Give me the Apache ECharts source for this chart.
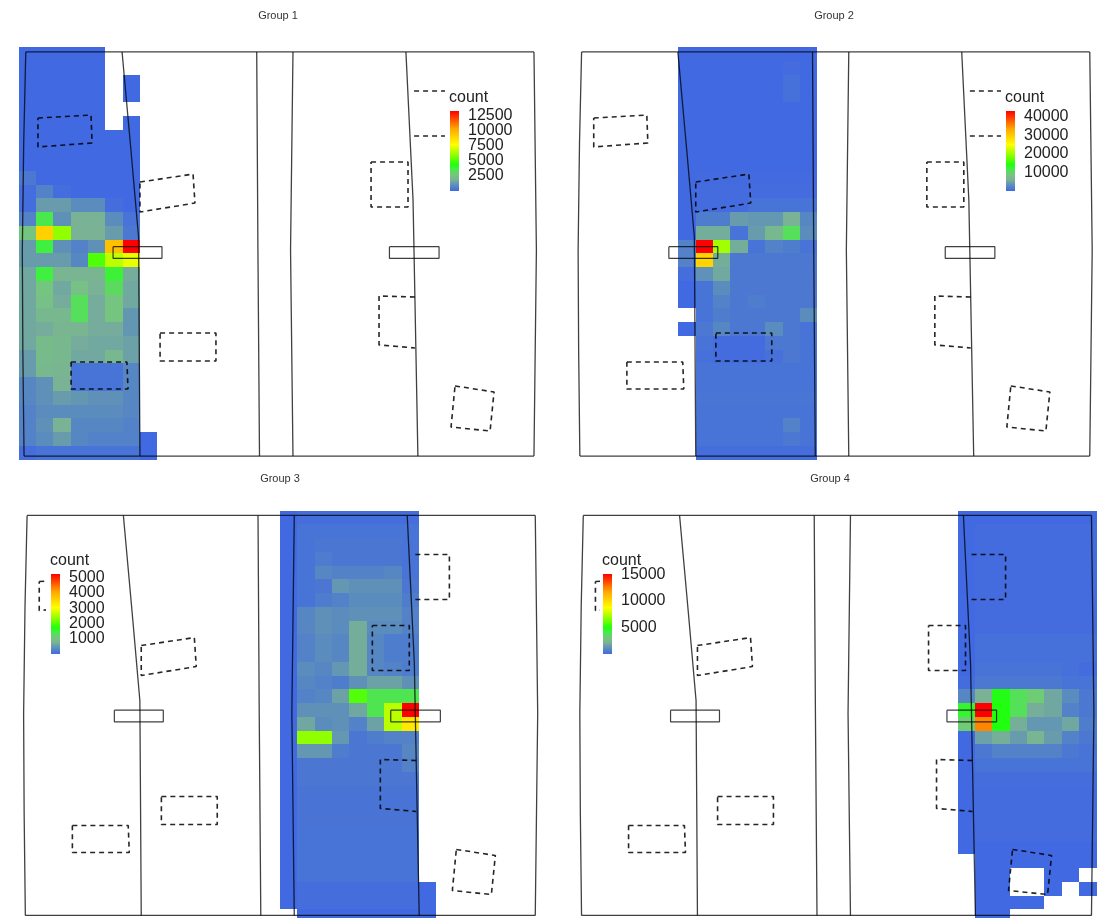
<!DOCTYPE html>
<html><head><meta charset="utf-8">
<style>html,body{margin:0;padding:0;background:#fff}#c{width:1098px;height:918px;filter:blur(.45px)}</style>
<script src="https://cdn.jsdelivr.net/npm/echarts@6/dist/echarts.min.js"></script>
</head><body><div id="c"></div>
<script>
// Estimated counts, one list per binned row; the first value of a row falls in the first column named below. null = empty bin.
const group1Start = 0, group1Max = 13200, group1Ticks = 2500;
const group1Counts = [
[0,0,0,0,0,null,null],[0,0,0,0,0,null,null],[0,0,0,0,0,null,0],[0,0,0,0,0,null,0],[0,0,0,0,0,null,null],
[0,0,0,0,0,null,0],[0,0,0,0,0,0,0],[0,0,0,0,0,0,0],[0,0,0,0,0,0,0],[400,0,0,0,0,0,0],
[100,660,100,0,0,0,0],[100,1320,1320,920,920,130,0],[660,3500,1050,1850,1850,920,260],[2650,9000,5940,1850,1850,1320,400],
[1320,3700,1050,660,1050,9500,13200],[1320,1320,1320,800,5000,6600,7300],[1600,3700,2000,2000,2000,3800,1700],
[1600,2650,1600,2400,1850,3200,1600],[1600,2400,1700,3300,1700,2650,1600],[1600,2100,2100,3300,1700,2650,1200],
[1600,1700,2000,2000,1700,1700,1200],[1600,2250,2100,1700,1600,1600,1450],[1320,2250,2100,1600,1600,2100,1450],
[1320,2100,2000,260,260,260,800],[800,1050,1850,260,260,260,800],[800,1050,1320,1200,1050,1050,800],
[660,920,920,920,920,920,800],[660,1050,1850,800,800,800,660],[660,920,1320,800,660,660,660,0],[130,260,260,260,260,260,260,0]];

const group2Start = 6, group2Max = 43000, group2Ticks = 10000;
const group2Counts = [
[0,0,0,0,0,0,0,0],[0,0,0,0,0,0,300,0],[0,0,0,0,0,0,600,0],[0,0,0,0,0,0,600,0],[0,0,0,0,0,0,0,0],
[0,0,0,0,0,0,0,0],[0,0,0,0,0,0,0,0],[0,0,0,0,0,0,0,0],[0,0,0,0,0,0,0,0],[0,200,200,200,200,200,200,200],
[0,300,300,300,300,300,300,300],[0,300,300,300,860,860,860,860],[0,1700,1700,4300,3900,3900,6000,2600],
[0,5600,5600,860,4300,6900,10750,3000],[2150,43000,20200,5600,860,2150,1700,860],[2150,29000,5600,1300,1300,1300,1300,1300],
[430,3400,5200,1300,1300,1300,1300,1300],[0,860,3000,1300,1300,1300,1300,1300],[0,860,2150,1300,1700,1300,1300,1300],
[null,860,1700,1300,1300,1300,1300,3000],[0,1300,2600,1300,1300,3000,1300,860],[null,860,300,300,300,1300,1300,860],
[null,600,300,300,300,600,1300,860],[null,860,860,860,860,860,860,860],[null,860,860,860,860,860,860,860],
[null,1000,1000,1000,1000,1000,1000,1000],[null,860,860,860,860,860,860,860],[null,860,860,860,860,860,2150,860],
[null,860,860,860,860,860,1300,860],[null,430,430,430,430,430,430,430]];

const group3Start = 15, group3Max = 5230, group3Ticks = 1000;
const group3Counts = [
[0,50,50,50,50,50,50,50],[0,100,100,100,100,100,100,100],[0,100,150,150,150,150,150,100],[0,100,200,150,150,150,150,100],
[0,100,310,260,260,260,310,100],[0,100,150,470,420,420,420,150],[0,100,210,260,370,370,370,210],[0,310,420,370,420,420,420,260],
[0,310,420,370,680,370,370,260],[0,260,370,310,680,310,210,210],[0,260,370,310,680,310,210,210],[0,370,310,470,680,310,260,210],
[0,310,260,210,420,580,580,420],[0,260,310,580,2000,1360,1360,1360],[0,420,420,420,630,1360,2600,5230],[0,630,370,420,260,580,2600,3300],
[0,2350,2350,470,150,210,260,260],[0,470,470,210,150,150,150,310],[0,150,150,150,150,150,150,260],[0,150,150,150,150,150,150,150],
[0,120,120,120,120,120,120,120],[0,120,120,120,120,120,120,120],[0,120,120,120,120,120,120,120],[0,100,100,100,100,100,100,100],
[0,100,100,100,100,100,100,100],[0,100,100,100,100,100,100,100],[0,100,100,100,100,100,100,100],[0,50,50,50,50,50,50,50,0],
[0,50,50,50,50,50,50,50,0],[null,0,0,0,0,0,0,0,0]];

const group4Start = 22, group4Max = 15100, group4Ticks = 5000;
const group4Counts = [
[0,0,0,0,0,0,0,0],[0,100,100,100,100,100,100,100],[0,100,100,100,100,100,100,100],[0,100,100,100,100,100,100,100],
[0,100,100,100,100,100,100,100],[0,100,100,100,100,100,100,100],[0,100,100,100,100,100,100,100],[0,100,100,100,100,100,100,100],
[0,100,100,100,100,100,100,100],[0,200,200,200,200,200,200,200],[0,200,200,200,200,200,200,200],[0,300,300,300,300,300,200,100],
[100,450,450,450,450,450,300,300],[900,2100,4900,3800,3300,1800,1050,450],[4500,15100,5000,3800,2000,1800,750,450],
[3300,12400,5000,2000,1350,1350,1800,600],[0,1650,2000,1500,2250,1500,750,450],[0,450,750,750,750,750,450,300],
[0,300,300,300,300,300,300,300],[0,150,150,150,150,150,150,150],[0,100,100,100,100,100,100,100],[0,100,100,100,100,100,100,100],
[0,100,100,100,100,100,100,100],[0,100,100,100,100,100,100,100],[0,0,0,0,0,0,0,0],[null,0,0,0,0,0,0,0],
[null,0,0,null,null,0,0,null],[null,0,0,null,null,0,null,0],[null,0,0,0,0],[null,0,0]];

const titles = ['Group 1','Group 2','Group 3','Group 4'];
const legendName = 'count';
const binCount = 30;

// Site outline in bin units
const solidLines = [
 [[.42,.36],[.3,7],[.22,14.8],[.25,22],[.32,29.75]],
 [[.42,.36],[29.71,.36]],
 [[.32,29.75],[29.71,29.75]],
 [[5.97,.36],[6.48,7.49],[6.92,13.82],[7,29.75]],
 [[13.73,.36],[13.8,14.76],[13.89,29.75]],
 [[15.82,.36],[15.68,14.76],[15.82,29.75]],
 [[22.33,.36],[22.74,11.13],[22.85,18.4],[23.02,29.75]],
 [[29.71,.36],[29.85,14.76],[29.71,29.75]]
];
const boxes = [
 [[5.45,14.52],[8.27,14.52],[8.27,15.37],[5.45,15.37],[5.45,14.52]],
 [[21.38,14.52],[24.24,14.52],[24.24,15.37],[21.38,15.37],[21.38,14.52]]
];
const dashedLines = [
 [[1.12,5.16],[4.18,4.95],[4.24,6.98],[1.12,7.27],[1.12,5.16]],
 [[7,9.82],[10.06,9.24],[10.17,11.35],[7,12],[7,9.82]],
 [[8.16,20.8],[11.38,20.8],[11.38,22.84],[8.16,22.84],[8.16,20.8]],
 [[3.03,22.91],[6.25,22.91],[6.31,24.87],[3.03,24.87],[3.03,22.91]],
 [[22.8,3.2],[24.76,3.2],[24.76,6.47],[22.8,6.47]],
 [[20.32,8.36],[22.45,8.36],[22.45,11.64],[20.32,11.64],[20.32,8.36]],
 [[22.85,18.18],[20.78,18.11],[20.78,21.67],[22.85,21.89]],
 [[25.16,24.65],[27.41,25.09],[27.18,27.93],[24.93,27.64],[25.16,24.65]]
];

// colour ramp (fraction of the scale maximum, colour)
const rampStops = [[0,'#4169E1'],[.07,'#5A8CBE'],[.14,'#7AB295'],[.21,'#74C87C'],[.28,'#40F040'],[.33,'#20FF10'],[.43,'#80FF00'],[.58,'#FFFF00'],[.78,'#FFA500'],[1,'#FF0000']];

const hex = h => [1,3,5].map(i => parseInt(h.substr(i,2),16));
function rampAt(t){
  for(let i=1;i<rampStops.length;i++){
    if(t<=rampStops[i][0]){
      const [a,ca]=rampStops[i-1],[b,cb]=rampStops[i],k=(t-a)/(b-a),A=hex(ca),B=hex(cb);
      return 'rgb('+A.map((v,j)=>Math.round(v+(B[j]-v)*k)).join(',')+')';
    }
  }
  return rampStops[rampStops.length-1][1];
}
const rampColours = Array.from({length:101},(_,i)=>rampAt(i/100));

const panels = [
 {counts:group1Counts,start:group1Start,max:group1Max,ticks:group1Ticks,left:18.5,top:47,  bottomRow:29.75,lgLeft:450, lgTop:111,cover:[445,84,72,112]},
 {counts:group2Counts,start:group2Start,max:group2Max,ticks:group2Ticks,left:574.3,top:47, bottomRow:29.75,lgLeft:1006,lgTop:111,cover:[1001,84,72,112]},
 {counts:group3Counts,start:group3Start,max:group3Max,ticks:group3Ticks,left:19.8,top:510.5,bottomRow:29.45,lgLeft:51,lgTop:574,cover:[46,548,70,112]},
 {counts:group4Counts,start:group4Start,max:group4Max,ticks:group4Ticks,left:576,top:510.5,bottomRow:29.45,lgLeft:603,lgTop:574,cover:[600,548,70,112]}
];
const cellW = 17.35, cellH = 13.75;
const font = '"Liberation Sans", Arial, sans-serif';

const grid=[],xAxis=[],yAxis=[],series=[],visualMap=[],title=[],graphic=[];
const titlePos=[[278,10],[834,10],[280,473],[830,473]];

function renderBin(params,api){
  const c=api.value(0),r=api.value(1);
  const a=api.coord([c,r]),b=api.coord([c+1,r+1]);
  const x=Math.round(a[0]),y=Math.round(a[1]);
  return {type:'rect',shape:{x,y,width:Math.round(b[0])-x,height:Math.round(b[1])-y},style:{fill:api.visual('color')}};
}

panels.forEach((p,i)=>{
  const g=grid.length;
  grid.push({left:p.left,top:p.top,width:cellW*binCount,height:cellH*binCount,outerBoundsMode:'none'});
  const xVal=xAxis.length; xAxis.push({gridIndex:g,type:'value',min:0,max:binCount,show:false,splitLine:{show:false}});
  const yVal=yAxis.length; yAxis.push({gridIndex:g,type:'value',min:0,max:binCount,inverse:true,show:false,splitLine:{show:false}});
  const data=[];
  p.counts.forEach((row,r)=>row.forEach((v,c)=>{ if(v!==null) data.push([c+p.start,r,v]); }));
  visualMap.push({type:'continuous',show:false,seriesIndex:series.length,dimension:2,min:0,max:p.max,inRange:{color:rampColours}});
  series.push({type:'custom',xAxisIndex:xVal,yAxisIndex:yVal,data,z:2,silent:true,animation:false,clip:false,
    encode:{x:0,y:1},renderItem:renderBin});
  const line=(pts,style)=>series.push({type:'line',xAxisIndex:xVal,yAxisIndex:yVal,z:3,silent:true,animation:false,showSymbol:false,
    clip:false,lineStyle:style,
    data:pts.map(q=>[q[0],q[1]===29.75?p.bottomRow:q[1]])});
  solidLines.forEach(l=>line(l,{color:'rgba(0,0,0,.75)',width:1.3}));
  boxes.forEach(l=>line(l,{color:'rgba(0,0,0,.75)',width:1.2}));
  dashedLines.forEach(l=>line(l,{color:'rgba(0,0,0,.85)',width:1.6,type:[5,4]}));

  // legend
  const lg=grid.length;
  grid.push({left:p.lgLeft,top:p.lgTop,width:9,height:80,outerBoundsMode:'none'});
  const lx=xAxis.length; xAxis.push({gridIndex:lg,type:'category',data:[legendName],show:false});
  const ly=yAxis.length; yAxis.push({gridIndex:lg,type:'value',position:'right',min:0,max:p.max,interval:p.ticks,z:7,
    splitLine:{show:false},axisLine:{show:false},axisTick:{show:false},
    axisLabel:{show:true,showMinLabel:false,showMaxLabel:false,margin:9,fontFamily:font,fontSize:16,color:'#222',formatter:v=>String(v)}});
  series.push({type:'bar',xAxisIndex:lx,yAxisIndex:ly,data:[p.max],barWidth:'100%',z:6,silent:true,animation:false,
    itemStyle:{color:new echarts.graphic.LinearGradient(0,1,0,0,rampStops.map(s=>({offset:s[0],color:s[1]})))}});
  title.push({text:legendName,left:p.lgLeft-1,top:p.lgTop-21,padding:0,z:8,textStyle:{fontFamily:font,fontSize:16,fontWeight:'normal',color:'#222'}});
  graphic.push({type:'rect',z:5,silent:true,shape:{x:p.cover[0],y:p.cover[1],width:p.cover[2],height:p.cover[3]},style:{fill:'#fff'}});
  title.push({text:titles[i],left:titlePos[i][0],top:titlePos[i][1],padding:0,textAlign:'center',textStyle:{fontFamily:font,fontSize:11,fontWeight:'normal',color:'#333'}});
});

const chart=echarts.init(document.getElementById('c'),null,{renderer:'canvas'});
chart.setOption({animation:false,backgroundColor:'#fff',grid,xAxis,yAxis,series,visualMap,title,graphic});
</script></body></html>
